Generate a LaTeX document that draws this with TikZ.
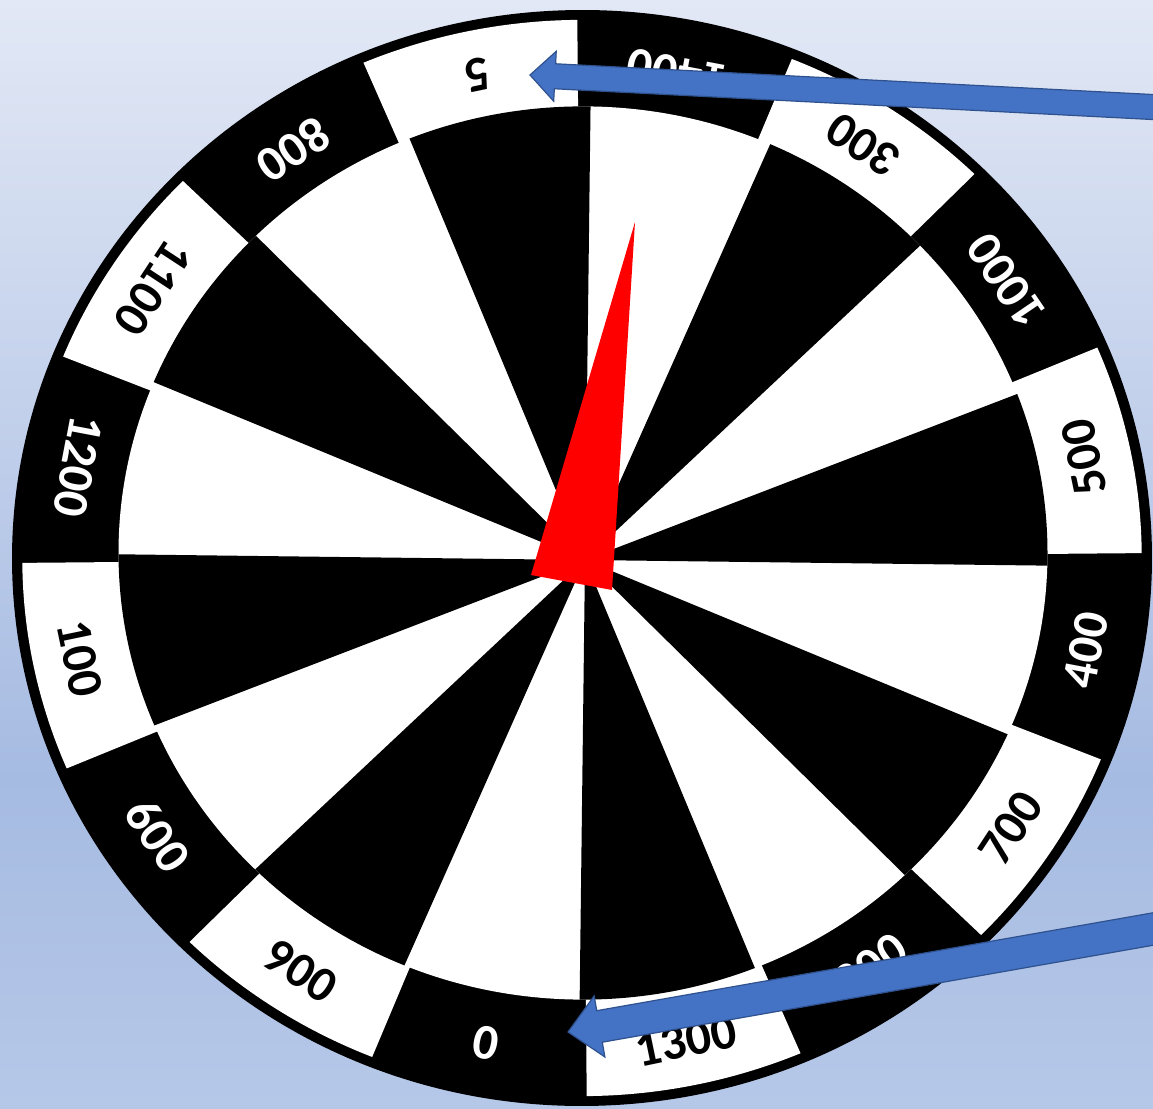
\documentclass[tikz,border=0pt]{standalone}
\usepackage{fontspec}
\setmainfont{Carlito}
\usetikzlibrary{calc}
\definecolor{bgtop}{RGB}{226,232,245}
\definecolor{bgmid}{RGB}{166,187,226}
\definecolor{bgbot}{RGB}{182,200,232}
\definecolor{arrowfill}{RGB}{68,114,196}
\definecolor{arrowedge}{RGB}{47,82,143}
\definecolor{needle}{RGB}{255,0,0}
\tikzset{
  lbl/.style={font=\fontsize{50}{60}\selectfont\bfseries, inner sep=0pt},
  blockarrow/.style={fill=arrowfill, draw=arrowedge, line width=1.2pt, line join=miter},
  whiteseg/.style={fill=white},
  blackseg/.style={fill=black},
}
\begin{document}
\begin{tikzpicture}[x=1pt,y=1pt]
\useasboundingbox (0,0) rectangle (1153,1108);
\begin{scope}
\clip (0,0) rectangle (1153,1108);
% background
\shade[bottom color=bgbot, top color=bgmid] (0,0) rectangle (1153,331);
\shade[bottom color=bgmid, top color=bgtop] (0,330) rectangle (1153,1108);
% outer ring
\begin{scope}[shift={(582,550)}, x=570pt, y=548pt, rotate=0.5]
  \fill[blackseg] (0,0) circle[radius=1];
  \foreach \k in {0,...,7} {
    \fill[whiteseg] (0,0) -- ({\k*45}:0.982) arc[start angle={\k*45}, end angle={\k*45+22.5}, radius=0.982] -- cycle;
  }
\end{scope}
% inner disc with wedges
\begin{scope}
  \clip (583,555) ellipse[x radius=464.5, y radius=446.6];
  \fill[whiteseg] (0,0) rectangle (1153,1108);
  \begin{scope}[shift={(585,548)}, x=570pt, y=548pt, rotate=-0.7]
    \foreach \k in {0,...,7} {
      \fill[blackseg] (0,0) -- ({\k*45}:1.3) arc[start angle={\k*45}, end angle={\k*45+22.5}, radius=1.3] -- cycle;
    }
  \end{scope}
\end{scope}
% labels
\begin{scope}[shift={(582,550)}, x=570pt, y=548pt, rotate=0.5]
  \foreach \a/\t/\c/\n in {78.75/1400/white/l1400, 56.25/300/black/l300, 33.75/1000/white/l1000,
      11.25/500/black/l500, -11.25/400/white/l400, -33.75/700/black/l700, -56.25/200/white/l200,
      -78.75/1300/black/l1300, -101.25/0/white/l0, -123.75/900/black/l900, -146.25/600/white/l600,
      -168.75/100/black/l100, 168.75/1200/white/l1200, 146.25/1100/black/l1100, 123.75/800/white/l800,
      101.25/5/black/l5} {
    \node[lbl, text=\c, rotate={\a+90.5}] (\n) at (\a:0.90) {\t};
  }
\end{scope}
% needle
\coordinate (ntip) at (635,886);
\coordinate (nbl) at (531,533);
\coordinate (nbr) at (612,518);
\fill[needle] (ntip) -- (nbl) -- (nbr) -- cycle;
% arrow 1 (to the 5 segment)
\coordinate (t1) at (530,1033);
\coordinate (s1) at (1185,999.3);
\coordinate (h1) at ($(t1)!25pt!(s1)$);
\draw[blockarrow] (t1) -- ($(h1)!25pt!90:(s1)$) -- ($(h1)!12.5pt!90:(s1)$)
  -- ($(s1)!12.5pt!-90:(h1)$) -- ($(s1)!12.5pt!90:(h1)$)
  -- ($(h1)!12.5pt!-90:(s1)$) -- ($(h1)!25pt!-90:(s1)$) -- cycle;
% arrow 2 (to the 0 segment)
\coordinate (t2) at (568,76);
\coordinate (s2) at (1185,184.6);
\coordinate (h2) at ($(t2)!32pt!(s2)$);
\draw[blockarrow] (t2) -- ($(h2)!31pt!90:(s2)$) -- ($(h2)!16pt!90:(s2)$)
  -- ($(s2)!16pt!-90:(h2)$) -- ($(s2)!16pt!90:(h2)$)
  -- ($(h2)!16pt!-90:(s2)$) -- ($(h2)!31pt!-90:(s2)$) -- cycle;
\end{scope}
\end{tikzpicture}
\end{document}
